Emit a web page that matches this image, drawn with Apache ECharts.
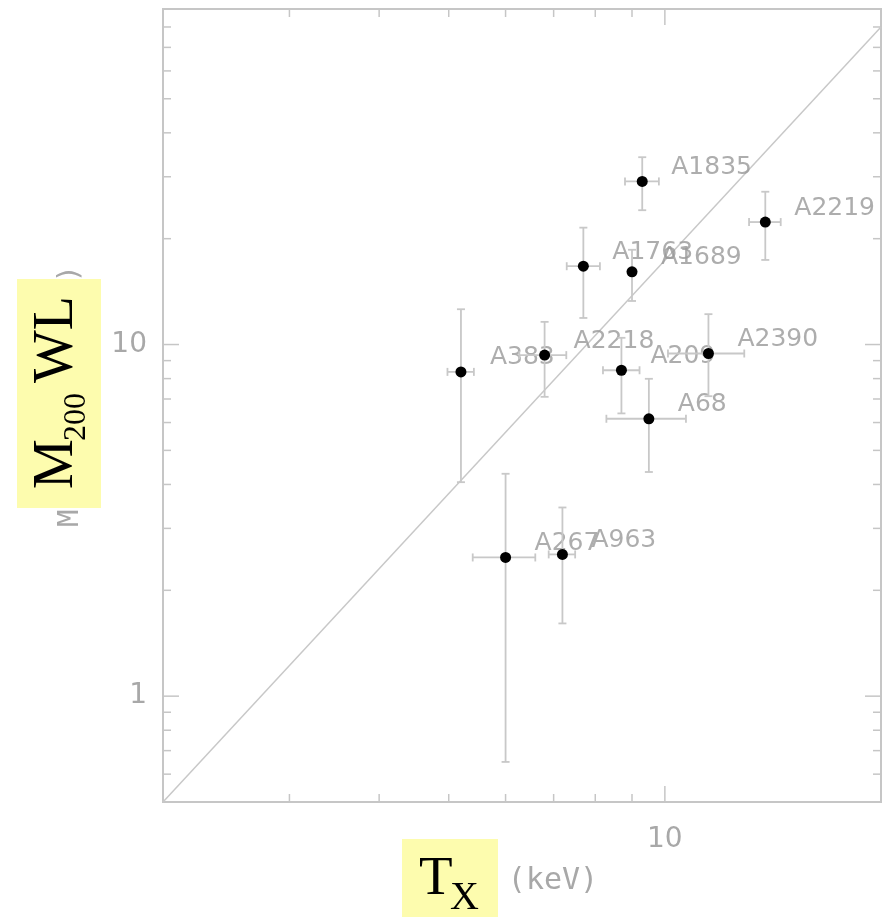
<!DOCTYPE html>
<html><head><meta charset="utf-8">
<script src="https://cdn.jsdelivr.net/npm/echarts@6/dist/echarts.min.js"></script>
<style>html,body{margin:0;padding:0;background:#fff}#c{width:884px;height:917px}</style>
</head><body><div id="c"></div>
<script>
// ---- data ----
const clusters = ['A1835','A2219','A1763','A1689','A2218','A383','A209','A2390','A68','A267','A963'];
const tx   = [9.30, 13.8, 7.70, 9.00, 6.80, 5.20, 8.70, 11.5, 9.50, 6.00, 7.20];
const txLo = [8.80, 13.1, 7.30, 8.90, 6.27, 4.98, 8.20, 10.1, 8.29, 5.40, 6.89];
const txHi = [9.81, 14.5, 8.12, 9.10, 7.29, 5.42, 9.22, 12.9, 10.7, 6.60, 7.50];
const mwl  = [29.1, 22.3, 16.7, 16.1, 9.33, 8.36, 8.45, 9.43, 6.15, 2.48, 2.53];
const mLo  = [24.1, 17.4, 11.9, 13.3, 7.10, 4.06, 6.37, 7.13, 4.34, 0.65, 1.61];
const mHi  = [34.1, 27.2, 21.5, 18.6, 11.6, 12.6, 10.45, 12.2, 7.99, 4.29, 3.44];
const relT = [2, 20];
const relM = [0.5, 80];
const xTickLabels = [10];
const yTickLabels = [1, 10];
const xMajorTicks = [10];
const xMinorTicks = [3, 4, 5, 6, 7, 8, 9];
const yMajorTicks = [1, 10];
const yMinorTicks = [0.6, 0.7, 0.8, 0.9, 2, 3, 4, 5, 6, 7, 8, 9, 20, 30, 40, 50, 60, 70, 80];

// ---- chart ----
const AX = '#c6c6c6';
const LBL = '#a8a8a8';
const chart = echarts.init(document.getElementById('c'), null, {renderer: 'canvas'});

const tickData = []
  .concat(xMajorTicks.map(v => [v, 1, 0]))
  .concat(xMinorTicks.map(v => [v, 1, 1]))
  .concat(yMajorTicks.map(v => [3, v, 2]))
  .concat(yMinorTicks.map(v => [3, v, 3]));

function tickItem(params, api) {
  const kind = api.value(2);
  const cs = params.coordSys;
  const len = (kind === 0 || kind === 2) ? 16 : 8;
  const style = {stroke: AX, lineWidth: 1.5};
  if (kind < 2) {
    const px = api.coord([api.value(0), 1])[0];
    const b = cs.y + cs.height, t = cs.y;
    return {type: 'group', children: [
      {type: 'line', shape: {x1: px, y1: b, x2: px, y2: b - len}, style},
      {type: 'line', shape: {x1: px, y1: t, x2: px, y2: t + len}, style}
    ]};
  } else {
    const py = api.coord([3, api.value(1)])[1];
    const l = cs.x, r = cs.x + cs.width;
    return {type: 'group', children: [
      {type: 'line', shape: {x1: l, y1: py, x2: l + len, y2: py}, style},
      {type: 'line', shape: {x1: r, y1: py, x2: r - len, y2: py}, style}
    ]};
  }
}

const errData = clusters.map((n, i) => [tx[i], mwl[i], txLo[i], txHi[i], mLo[i], mHi[i]]);
function errItem(params, api) {
  const x = api.value(0), y = api.value(1);
  const xl = api.coord([api.value(2), y]), xh = api.coord([api.value(3), y]);
  const yl = api.coord([x, api.value(4)]), yh = api.coord([x, api.value(5)]);
  const cap = 4;
  const style = {stroke: '#c8c8c8', lineWidth: 1.8};
  return {type: 'group', children: [
    {type: 'line', shape: {x1: xl[0], y1: xl[1], x2: xh[0], y2: xh[1]}, style},
    {type: 'line', shape: {x1: xl[0], y1: xl[1] - cap, x2: xl[0], y2: xl[1] + cap}, style},
    {type: 'line', shape: {x1: xh[0], y1: xh[1] - cap, x2: xh[0], y2: xh[1] + cap}, style},
    {type: 'line', shape: {x1: yl[0], y1: yl[1], x2: yh[0], y2: yh[1]}, style},
    {type: 'line', shape: {x1: yl[0] - cap, y1: yl[1], x2: yl[0] + cap, y2: yl[1]}, style},
    {type: 'line', shape: {x1: yh[0] - cap, y1: yh[1], x2: yh[0] + cap, y2: yh[1]}, style}
  ]};
}

const near = (v, arr) => arr.some(a => Math.abs(a - v) < 1e-6 * a);

chart.setOption({
  animation: false,
  backgroundColor: '#fff',
  grid: {left: 163, right: 2, top: 9, bottom: 115, show: true, borderColor: AX, borderWidth: 2},
  xAxis: {
    type: 'log', logBase: 10, min: 2, max: 20,
    axisLine: {show: false}, axisTick: {show: false}, splitLine: {show: false},
    axisLabel: {margin: 24, color: LBL, fontSize: 28, fontFamily: 'DejaVu Sans',
      formatter: v => near(v, xTickLabels) ? String(Math.round(v)) : ''}
  },
  yAxis: {
    type: 'log', logBase: 10, min: 0.5, max: 90,
    axisLine: {show: false}, axisTick: {show: false}, splitLine: {show: false},
    axisLabel: {margin: 16, color: LBL, fontSize: 28, fontFamily: 'DejaVu Sans',
      formatter: v => near(v, yTickLabels) ? String(Math.round(v)) : ''}
  },
  series: [
    {type: 'custom', renderItem: tickItem, data: tickData, silent: true, z: 1, clip: false},
    {type: 'line', data: relT.map((t, i) => [t, relM[i]]), symbol: 'none',
      lineStyle: {color: '#c8c8c8', width: 1.5}, z: 1},
    {type: 'scatter', data: clusters.map((n, i) => ({name: n, value: [tx[i], mwl[i]]})),
      symbolSize: 0, z: 2,
      label: {show: true, position: 'right', distance: 29, offset: [0, -14],
        formatter: p => p.name, color: '#999', fontSize: 25, fontFamily: 'DejaVu Sans'}},
    {type: 'custom', renderItem: errItem, data: errData, z: 3},
    {type: 'scatter', data: clusters.map((n, i) => [tx[i], mwl[i]]), symbolSize: 11,
      itemStyle: {color: '#000', opacity: 1}, z: 4}
  ],
  graphic: [
    {type: 'text', x: 553, y: 881, z: 10, style: {text: '(keV)', fill: LBL, fontSize: 30,
      fontFamily: 'DejaVu Sans Mono', align: 'center', verticalAlign: 'middle'}},
    {type: 'text', x: 70, y: 396, rotation: Math.PI / 2, z: 10, style: {text: 'M (10¹⁴ h⁻¹ M☉)',
      fill: LBL, fontSize: 29, fontFamily: 'DejaVu Sans Mono', align: 'center', verticalAlign: 'middle'}},
    {type: 'rect', z: 11, shape: {x: 402, y: 839, width: 96, height: 78}, style: {fill: '#fdfcae'}},
    {type: 'text', z: 12, x: 419, y: 880, style: {text: 'T', fill: '#000', fontSize: 55,
      fontFamily: 'Liberation Serif', align: 'left', verticalAlign: 'middle'}},
    {type: 'text', z: 12, x: 450, y: 898, style: {text: 'X', fill: '#000', fontSize: 40,
      fontFamily: 'Liberation Serif', align: 'left', verticalAlign: 'middle'}},
    {type: 'rect', z: 11, shape: {x: 17, y: 279, width: 84, height: 229}, style: {fill: '#fdfcae'}},
    {type: 'text', z: 12, x: 57, y: 489, rotation: Math.PI / 2, style: {text: 'M', fill: '#000',
      fontSize: 56, fontFamily: 'Liberation Serif', align: 'left', verticalAlign: 'middle'}},
    {type: 'text', z: 12, x: 77, y: 441, rotation: Math.PI / 2, style: {text: '200', fill: '#000',
      fontSize: 32, fontFamily: 'Liberation Serif', align: 'left', verticalAlign: 'middle'}},
    {type: 'text', z: 12, x: 57, y: 383, rotation: Math.PI / 2, style: {text: 'WL', fill: '#000',
      fontSize: 56, fontFamily: 'Liberation Serif', align: 'left', verticalAlign: 'middle'}}
  ]
});
</script></body></html>
